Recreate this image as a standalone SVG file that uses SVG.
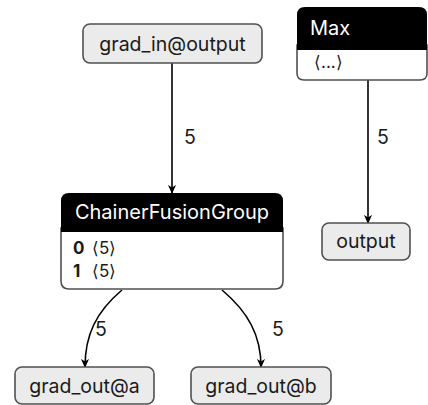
<svg xmlns="http://www.w3.org/2000/svg" width="428" height="405" viewBox="0 0 428 405">
  <style>
    text { font-family: Inter, "Liberation Sans", sans-serif; fill: #1a1a1a; }
    .lbl { font-size: 19.5px; }
    .hdr { font-size: 20px; fill: #ffffff; }
    .row { font-size: 17px; }
    .b { font-weight: bold; }
    .plain { fill: #ebebeb; stroke: #505050; stroke-width: 1.6; }
    .head { fill: #000000; }
    .body { fill: #ffffff; stroke: #505050; stroke-width: 1.6; }
    .edge { fill: none; stroke: #000000; stroke-width: 1.6; }
  </style>
  <defs>
    <marker id="arrow" viewBox="0 0 10 10" refX="9" refY="5" markerWidth="9" markerHeight="9" markerUnits="userSpaceOnUse" orient="auto">
      <path d="M0,0.5 L10,5 L0,9.5 L3,5 Z" fill="#000000"/>
    </marker>
  </defs>

  <g id="connectors">
    <path class="edge" d="M172,63 L172,193" marker-end="url(#arrow)"/>
    <text class="lbl" x="184" y="144">5</text>
    <path class="edge" d="M368,80 L368,223" marker-end="url(#arrow)"/>
    <text class="lbl" x="377" y="144">5</text>
    <path class="edge" d="M122,290 C96,312 85,335 85,367" marker-end="url(#arrow)"/>
    <text class="lbl" x="95" y="336">5</text>
    <path class="edge" d="M222,290 C248,312 261,335 261,367" marker-end="url(#arrow)"/>
    <text class="lbl" x="272" y="336">5</text>
  </g>

  <g id="grad_in_output">
    <rect class="plain" x="83" y="24" width="179" height="39" rx="7"/>
    <text class="lbl" x="172.5" y="51" text-anchor="middle">grad_in@output</text>
  </g>

  <g id="max">
    <path class="body" d="M297,45 L427,45 L427,73 Q427,80 420,80 L304,80 Q297,80 297,73 Z"/>
    <path class="head" d="M297,15 Q297,7 305,7 L419,7 Q427,7 427,15 L427,50 L297,50 Z"/>
    <text class="hdr" x="310" y="35">Max</text>
    <text class="row" x="314" y="68">⟨...⟩</text>
  </g>

  <g id="chainer_fusion_group">
    <path class="body" d="M61,228 L283,228 L283,281 Q283,289 275,289 L69,289 Q61,289 61,281 Z"/>
    <path class="head" d="M61,201 Q61,193 69,193 L275,193 Q283,193 283,201 L283,232 L61,232 Z"/>
    <text class="hdr" x="172" y="219" text-anchor="middle">ChainerFusionGroup</text>
    <text class="row" x="73" y="254"><tspan class="b">0</tspan><tspan x="92">⟨5⟩</tspan></text>
    <text class="row" x="73" y="277"><tspan class="b">1</tspan><tspan x="92">⟨5⟩</tspan></text>
  </g>

  <g id="output">
    <rect class="plain" x="322" y="223" width="88" height="37" rx="7"/>
    <text class="lbl" x="366" y="248" text-anchor="middle">output</text>
  </g>

  <g id="grad_out_a">
    <rect class="plain" x="15" y="367" width="139" height="37" rx="7"/>
    <text class="lbl" x="84.5" y="393" text-anchor="middle">grad_out@a</text>
  </g>

  <g id="grad_out_b">
    <rect class="plain" x="191" y="367" width="140" height="37" rx="7"/>
    <text class="lbl" x="261" y="393" text-anchor="middle">grad_out@b</text>
  </g>
</svg>
